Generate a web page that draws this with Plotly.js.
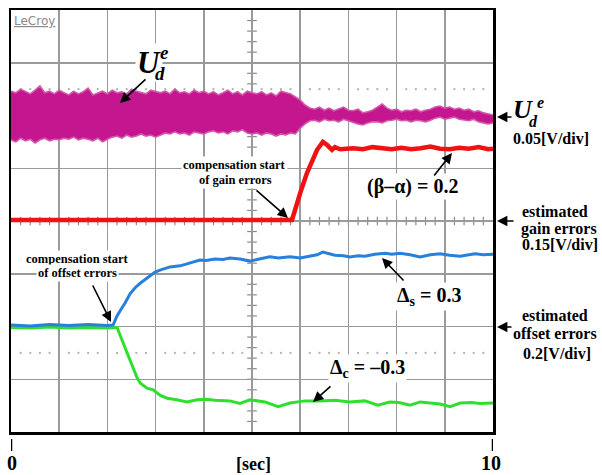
<!DOCTYPE html>
<html><head><meta charset="utf-8">
<script src="https://cdn.plot.ly/plotly-3.0.1.min.js"></script>
<style>html,body{margin:0;padding:0;background:#fff}#chart{width:602px;height:475px}</style>
</head><body><div id="chart"></div>
<script>
// ---- data (time in s, values in screen divisions) ----
const magTime = [0,0.1,0.2,0.3,0.4,0.5,0.6,0.7,0.8,0.9,1.0,1.1,1.2,1.3,1.4,1.5,1.6,1.7,1.8,1.9,2.0,
 2.1,2.2,2.3,2.4,2.5,2.6,2.7,2.8,2.9,3.0,3.1,3.2,3.3,3.4,3.5,3.6,3.7,3.8,3.9,4.0,
 4.1,4.2,4.3,4.4,4.5,4.6,4.7,4.8,4.9,5.0,5.1,5.2,5.3,5.4,5.5,5.6,5.7,5.8,5.9,6.0,
 6.1,6.2,6.3,6.4,6.5,6.6,6.7,6.8,6.9,7.0,7.1,7.2,7.3,7.4,7.5,7.6,7.7,7.8,7.9,8.0,
 8.1,8.2,8.3,8.4,8.5,8.6,8.7,8.8,8.9,9.0,9.1,9.2,9.3,9.4,9.5,9.6,9.7,9.8,9.9,10.0];
const magUpper = [2.46,2.43,2.50,2.45,2.41,2.48,2.56,2.43,2.46,2.41,2.48,
 2.43,2.39,2.46,2.41,2.45,2.52,2.39,2.43,2.46,2.41,
 2.48,2.43,2.45,2.41,2.50,2.46,2.43,2.41,2.48,2.45,2.43,
 2.46,2.41,2.50,2.43,2.45,2.41,2.48,2.43,2.46,2.41,
 2.45,2.39,2.43,2.48,2.41,2.45,2.39,2.46,2.43,
 2.41,2.45,2.39,2.43,2.37,2.46,2.43,2.41,2.35,
 2.29,2.20,2.14,
 2.12,2.16,2.10,2.14,2.09,2.12,2.16,2.10,
 2.09,2.12,2.05,2.07,2.10,
 2.16,2.22,2.14,
 2.10,2.12,2.07,2.10,2.09,2.12,2.07,2.10,2.12,
 2.16,2.18,2.14,2.16,2.12,2.14,
 2.10,2.12,2.07,2.09,2.05,
 2.03,2.01];
const magLower = [1.54,1.50,1.57,1.52,1.55,1.48,1.54,1.57,1.52,1.55,1.54,
 1.57,1.55,1.59,1.54,1.57,1.55,1.52,1.57,1.50,1.55,
 1.59,1.61,1.57,1.63,1.59,1.61,1.65,1.61,1.63,1.59,1.63,
 1.67,1.65,1.69,1.65,1.67,1.63,1.69,1.67,1.65,1.69,
 1.71,1.67,1.69,1.65,1.71,1.69,1.73,1.67,1.65,
 1.67,1.63,1.67,1.65,1.61,1.65,1.63,1.67,1.65,
 1.76,1.84,1.90,
 1.91,1.88,1.93,1.90,1.91,1.88,1.93,1.90,
 1.86,1.84,1.82,1.86,1.88,
 1.88,1.86,1.90,
 1.91,1.93,1.90,1.91,1.88,1.91,1.90,1.88,1.91,
 1.95,1.97,1.93,1.95,1.97,1.93,
 1.91,1.90,1.93,1.88,1.86,
 1.84,1.86];

const redTime = [0,1.0,2.0,3.0,4.0,5.0,5.83,6.0,6.14,6.35,6.47,6.56,6.66,6.72,6.83,7.1,7.3,7.5,7.7,7.9,8.1,8.3,8.5,8.7,8.9,9.1,9.3,9.5,9.7,9.9,10];
const redVal  = [0.02,0.02,0.02,0.02,0.02,0.02,0.02,0.53,0.91,1.35,1.50,1.44,1.35,1.40,1.36,1.38,1.36,1.40,1.37,1.36,1.39,1.36,1.38,1.41,1.37,1.36,1.39,1.37,1.40,1.36,1.37];

const blueTime = [0,0.4,0.8,1.2,1.6,2.0,2.12,2.20,2.30,2.37,2.47,2.58,2.68,2.82,2.99,3.09,3.20,3.30,3.51,3.71,3.92,4.05,4.23,4.40,4.54,4.75,4.96,5.15,5.37,5.55,5.79,6.00,6.20,6.35,6.47,6.60,6.72,6.90,7.03,7.20,7.34,7.55,7.76,7.90,8.07,8.28,8.49,8.70,8.90,9.10,9.32,9.50,9.63,9.80,10];
const blueVal  = [-1.97,-1.99,-1.96,-1.98,-1.96,-1.98,-1.97,-1.80,-1.65,-1.55,-1.38,-1.26,-1.18,-1.08,-0.97,-0.93,-0.90,-0.87,-0.85,-0.80,-0.74,-0.75,-0.72,-0.73,-0.70,-0.72,-0.76,-0.72,-0.68,-0.70,-0.68,-0.70,-0.66,-0.64,-0.59,-0.62,-0.65,-0.66,-0.68,-0.66,-0.67,-0.63,-0.61,-0.63,-0.61,-0.64,-0.68,-0.64,-0.62,-0.65,-0.67,-0.64,-0.62,-0.64,-0.63];

const greenTime = [0,0.4,0.8,1.2,1.6,2.0,2.20,2.32,2.47,2.61,2.68,2.82,2.95,3.09,3.24,3.44,3.65,3.86,4.05,4.23,4.54,4.75,4.96,5.27,5.54,5.79,6.10,6.41,6.72,7.03,7.34,7.61,7.86,8.05,8.28,8.49,8.70,8.90,9.11,9.32,9.55,9.73,10];
const greenVal  = [-2.02,-2.03,-2.01,-2.03,-2.02,-2.03,-2.02,-2.31,-2.64,-2.96,-3.07,-3.17,-3.20,-3.30,-3.36,-3.39,-3.43,-3.39,-3.38,-3.40,-3.41,-3.46,-3.39,-3.43,-3.52,-3.45,-3.41,-3.41,-3.40,-3.43,-3.41,-3.49,-3.43,-3.44,-3.49,-3.43,-3.45,-3.47,-3.52,-3.45,-3.44,-3.46,-3.45];

const axisLabels = ['0', '[sec]', '10'];

// ---- layout helpers (pixel -> paper) ----
const X0 = 11, X1 = 493, Y0 = 10, Y1 = 432;
const px = x => (x - X0) / (X1 - X0);
const py = y => (Y1 - y) / (Y1 - Y0);
const SERIF = 'Liberation Serif';

function txt(s, x, y, size, extra) {
  return Object.assign({text: s, xref: 'paper', yref: 'paper', x: px(x), y: py(y),
    xanchor: 'center', yanchor: 'middle', showarrow: false,
    font: {family: SERIF, size: size, color: '#000'}}, extra || {});
}
function arr(xt, yt, xs, ys) {
  return {text: '', xref: 'paper', yref: 'paper', x: px(xt), y: py(yt),
    ax: xs - xt, ay: ys - yt, showarrow: true, arrowhead: 2, arrowsize: 1.3,
    arrowwidth: 1.6, arrowcolor: '#000', standoff: 0};
}

const MAG = '#c4168f';
const MAG_EDGE = '#d457aa';
const traces = [
  {x: magTime, y: magLower, mode: 'lines', line: {color: MAG_EDGE, width: 1.6}, hoverinfo: 'skip'},
  {x: magTime, y: magUpper, mode: 'lines', line: {color: MAG_EDGE, width: 1.6}, fill: 'tonexty', fillcolor: MAG, hoverinfo: 'skip'},
  {x: redTime, y: redVal, mode: 'lines', line: {color: '#f01212', width: 4.5}},
  {x: greenTime, y: greenVal, mode: 'lines', line: {color: '#2ee02e', width: 3}},
  {x: blueTime, y: blueVal, mode: 'lines', line: {color: '#2680dc', width: 3}}
];

// scope graticule decorations
const shapes = [];
for (let k = 1; k < 40; k++) {
  const yv = -4 + 0.2 * k;
  shapes.push({type: 'line', xref: 'x', yref: 'y', x0: 4.9, x1: 5.1, y0: yv, y1: yv, layer: 'below', line: {color: '#8a8a8a', width: 1.2}});
}
for (let k = 1; k < 50; k++) {
  const xv = 0.2 * k;
  shapes.push({type: 'line', xref: 'x', yref: 'y', x0: xv, x1: xv, y0: -0.08, y1: 0.08, layer: 'below', line: {color: '#8a8a8a', width: 1.2}});
}
for (let i = 0; i < 10; i++) {
  for (let j = 1; j < 5; j++) {
    const xv = i + 0.2 * j;
    [2.5, -2.5].forEach(yv => shapes.push({type: 'line', xref: 'x', yref: 'y', x0: xv - 0.02, x1: xv + 0.02, y0: yv, y1: yv, layer: 'below', line: {color: '#b0b0b0', width: 2}}));
  }
}
[0, 10].forEach(xv => shapes.push({type: 'line', xref: 'x', yref: 'paper', x0: xv, x1: xv, y0: py(439), y1: py(451), line: {color: '#000', width: 2.5}}));

const WB = {bgcolor: '#fff', borderpad: 1};
const annotations = [
  txt('<u>LeCroy</u>', 12, 21, 12, {xanchor: 'left', font: {family: 'DejaVu Sans', size: 12, color: '#8a8a8a'}}),
  // left U_d^e
  txt('<b><i>U</i></b>', 149, 62, 31, WB),
  txt('<b><i>e</i></b>', 164, 52, 19),
  txt('<b><i>d</i></b>', 160, 73, 19),
  arr(120, 103, 147, 78),
  // right U_d^e
  txt('<b><i>U</i></b>', 523, 109, 26),
  txt('<b><i>e</i></b>', 540, 102, 16),
  txt('<b><i>d</i></b>', 533, 122, 16),
  arr(497, 117, 513, 117),
  txt('<b>0.05[V/div]</b>', 551, 138, 16),
  // gain compensation
  txt('<b>compensation start</b>', 234, 165, 12.5, WB),
  txt('<b>of gain errors</b>', 235, 180, 12.5, WB),
  arr(288, 218, 255, 189),
  txt('<b>(β–α) = 0.2</b>', 412, 186, 20, WB),
  arr(452, 153, 433, 177),
  arr(497, 221, 515, 221),
  txt('<b>estimated</b>', 555, 212, 16),
  txt('<b>gain errors</b>', 559, 229, 16),
  txt('<b>0.15[V/div]</b>', 560, 245, 16),
  // offset compensation
  txt('<b>Δ<sub>s</sub> = 0.3</b>', 429, 296, 20, WB),
  arr(382, 258, 405, 282),
  txt('<b>compensation start</b>', 77, 259, 12.5, WB),
  txt('<b>of offset errors</b>', 77, 273, 12.5, WB),
  arr(111, 322, 92, 284),
  arr(497, 327, 513, 327),
  txt('<b>estimated</b>', 555, 315, 16),
  txt('<b>offset errors</b>', 555, 333, 16),
  txt('<b>0.2[V/div]</b>', 557, 353, 16),
  txt('<b>Δ<sub>c</sub> = –0.3</b>', 367, 368, 20, WB),
  arr(313, 402, 332, 385),
  // time axis labels
  txt('<b>' + axisLabels[0] + '</b>', 12, 463, 20),
  txt('<b>' + axisLabels[1] + '</b>', 253, 464, 18),
  txt('<b>' + axisLabels[2] + '</b>', 491, 463, 20)
];

const axisCommon = {showgrid: true, gridcolor: '#9a9a9a', gridwidth: 1.5, zeroline: false,
  showticklabels: false, ticks: '', showline: true, mirror: true, linecolor: '#000', linewidth: 2.5, fixedrange: true};

const layout = {
  width: 602, height: 475,
  margin: {l: X0, r: 602 - X1, t: Y0, b: 475 - Y1, pad: 0},
  paper_bgcolor: '#fff', plot_bgcolor: '#fff',
  showlegend: false,
  xaxis: Object.assign({range: [0, 10], dtick: 1, tick0: 0}, axisCommon),
  yaxis: Object.assign({range: [-4, 4], dtick: 1, tick0: 0}, axisCommon),
  shapes: shapes,
  annotations: annotations
};

Plotly.newPlot('chart', traces, layout, {staticPlot: true, displayModeBar: false});
</script>
</body></html>
